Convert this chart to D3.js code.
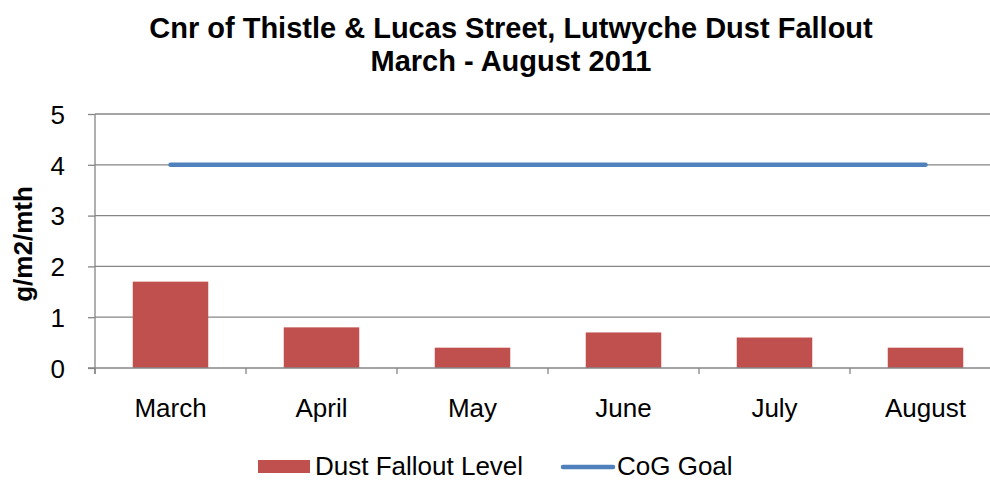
<!DOCTYPE html>
<html>
<head>
<meta charset="utf-8">
<title>Dust Fallout</title>
<script src="https://d3js.org/d3.v7.min.js"></script>
<style>
body { margin: 0; background: #fff; }
text { font-family: "Liberation Sans", Arial, sans-serif; fill: #000; }
</style>
</head>
<body>
<div id="chart"></div>
<script>
// chart data
var months = ["March", "April", "May", "June", "July", "August"];
var dustLevel = [1.7, 0.8, 0.4, 0.7, 0.6, 0.4];
var cogGoal = [4, 4, 4, 4, 4, 4];
var yTicks = [0, 1, 2, 3, 4, 5];

var W = 990, H = 480;
var plotLeft = 95, plotRight = 1001, plotTop = 114, plotBottom = 368;

var svg = d3.select("#chart").append("svg")
    .attr("width", W)
    .attr("height", H);

var x = d3.scaleBand()
    .domain(months)
    .range([plotLeft, plotRight])
    .paddingInner(0.5)
    .paddingOuter(0.25);

var xc = d3.scaleBand().domain(months).range([plotLeft, plotRight]);

var y = d3.scaleLinear()
    .domain([0, 5])
    .range([plotBottom, plotTop]);

// gridlines
svg.append("g")
  .selectAll("line")
  .data(yTicks.slice(1))
  .enter().append("line")
    .attr("x1", plotLeft).attr("x2", plotRight)
    .attr("y1", function(d) { return y(d); })
    .attr("y2", function(d) { return y(d); })
    .style("stroke", "#868686")
    .style("stroke-width", 1.3);

// bars
svg.append("g")
  .selectAll("rect")
  .data(dustLevel)
  .enter().append("rect")
    .attr("x", function(d, i) { return x(months[i]); })
    .attr("y", function(d) { return y(d); })
    .attr("width", x.bandwidth())
    .attr("height", function(d) { return y(0) - y(d); })
    .style("fill", "#C0504D");

// y axis
var yAxis = svg.append("g")
    .attr("transform", "translate(" + plotLeft + ",0)")
    .call(d3.axisLeft(y).tickValues(yTicks).tickSize(7).tickPadding(23).tickFormat(d3.format("d")));
yAxis.select(".domain").attr("d", "M0," + plotTop + "V" + (plotBottom + 6)).style("stroke", "#868686").style("stroke-width", 1.3);
yAxis.selectAll(".tick line").style("stroke", "#868686").style("stroke-width", 1.3);
yAxis.selectAll(".tick text").style("font-size", "26px").attr("dy", "0.36em");

// x axis
var xAxis = svg.append("g")
    .attr("transform", "translate(0," + plotBottom + ")")
    .call(d3.axisBottom(xc).tickSize(0));
xAxis.select(".domain").attr("d", "M" + (plotLeft - 7) + ",0H" + plotRight).style("stroke", "#868686").style("stroke-width", 1.3);
xAxis.selectAll(".tick text").style("font-size", "26px").attr("y", 49).attr("dy", 0);
xAxis.append("g")
  .selectAll("line")
  .data(months.concat([null]))
  .enter().append("line")
    .attr("x1", function(d, i) { return plotLeft + i * xc.step(); })
    .attr("x2", function(d, i) { return plotLeft + i * xc.step(); })
    .attr("y1", 0).attr("y2", 6)
    .style("stroke", "#868686")
    .style("stroke-width", 1.3);

// goal line
var line = d3.line()
    .x(function(d, i) { return xc(months[i]) + xc.bandwidth() / 2; })
    .y(function(d) { return y(d); });

svg.append("path")
    .datum(cogGoal)
    .attr("d", line)
    .style("fill", "none")
    .style("stroke", "#4F81BD")
    .style("stroke-width", 4.5)
    .style("stroke-linecap", "round");

// title
var title = svg.append("text")
    .attr("text-anchor", "middle")
    .style("font-size", "29px")
    .style("font-weight", "bold");
title.append("tspan").attr("x", 511).attr("y", 38).text("Cnr of Thistle & Lucas Street, Lutwyche Dust Fallout");
title.append("tspan").attr("x", 511).attr("y", 71).text("March - August 2011");

// y label
svg.append("text")
    .attr("text-anchor", "middle")
    .attr("transform", "translate(32,244)rotate(-90)")
    .style("font-size", "26px")
    .style("font-weight", "bold")
    .text("g/m2/mth");

// legend
var lg = svg.append("g");
lg.append("rect")
    .attr("x", 258).attr("y", 460)
    .attr("width", 52).attr("height", 13)
    .style("fill", "#C0504D");
lg.append("text")
    .attr("x", 315).attr("y", 475)
    .style("font-size", "26px")
    .text("Dust Fallout Level");
lg.append("line")
    .attr("x1", 563).attr("x2", 613)
    .attr("y1", 467).attr("y2", 467)
    .style("stroke", "#4F81BD")
    .style("stroke-width", 4.5)
    .style("stroke-linecap", "round");
lg.append("text")
    .attr("x", 617).attr("y", 475)
    .style("font-size", "26px")
    .text("CoG Goal");
</script>
</body>
</html>
